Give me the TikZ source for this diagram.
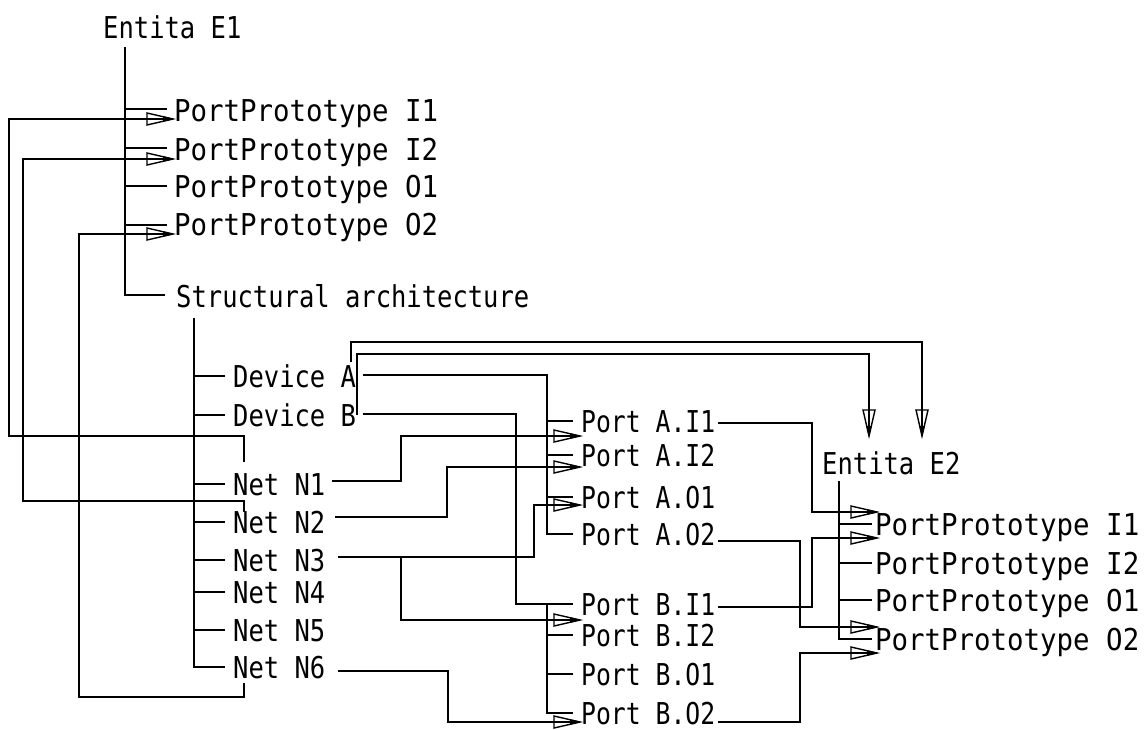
\documentclass[tikz,border=0pt]{standalone}
\usepackage{fontspec}
\usepackage{graphicx}
\newfontfamily\cadfont{DejaVu Sans Mono}
\usetikzlibrary{decorations.markings}
\newcommand\cadlab[2][1]{\scalebox{#1}[1.18]{#2}}
\tikzset{
  lab/.style={anchor=base west, inner sep=0pt, font=\cadfont\fontsize{25.5}{30}\selectfont},
  wire/.style={line width=1.4pt},
  cadarrow/.style={postaction={decorate},decoration={markings,mark=at position 1 with {%
    \draw[line width=1.4pt,line join=miter] (0pt,0pt)--(-26pt,6pt)--(-26pt,-6pt)--cycle;
    \fill (1pt,0pt)--(-10pt,2.8pt)--(-10pt,-2.8pt)--cycle;}}}
}
\begin{document}
\begin{tikzpicture}[x=1pt,y=-1pt]
\useasboundingbox[fill=white] (0,0) rectangle (1147,729);

% ---------- labels ----------
\node[lab] (e1) at (103,38) {\cadlab{Entita E1}};
\node[lab] (p1i1) at (174,121) {\cadlab[1.075]{PortPrototype I1}};
\node[lab] (p1i2) at (174,160) {\cadlab[1.075]{PortPrototype I2}};
\node[lab] (p1o1) at (174,197) {\cadlab[1.075]{PortPrototype O1}};
\node[lab] (p1o2) at (174,235) {\cadlab[1.075]{PortPrototype O2}};
\node[lab] (sa) at (176,307) {\cadlab{Structural architecture}};
\node[lab] (da) at (233,387) {\cadlab{Device A}};
\node[lab] (db) at (233,426) {\cadlab{Device B}};
\node[lab] (n1) at (233,495) {\cadlab{Net N1}};
\node[lab] (n2) at (233,533) {\cadlab{Net N2}};
\node[lab] (n3) at (233,571) {\cadlab{Net N3}};
\node[lab] (n4) at (233,603) {\cadlab{Net N4}};
\node[lab] (n5) at (233,641) {\cadlab{Net N5}};
\node[lab] (n6) at (233,678) {\cadlab{Net N6}};
\node[lab] (pai1) at (581,432) {\cadlab[0.97]{Port A.I1}};
\node[lab] (pai2) at (581,466) {\cadlab[0.97]{Port A.I2}};
\node[lab] (pao1) at (581,508) {\cadlab[0.97]{Port A.O1}};
\node[lab] (pao2) at (581,545) {\cadlab[0.97]{Port A.O2}};
\node[lab] (pbi1) at (581,615) {\cadlab[0.97]{Port B.I1}};
\node[lab] (pbi2) at (581,646) {\cadlab[0.97]{Port B.I2}};
\node[lab] (pbo1) at (581,685) {\cadlab[0.97]{Port B.O1}};
\node[lab] (pbo2) at (581,724) {\cadlab[0.97]{Port B.O2}};
\node[lab] (e2) at (822,474) {\cadlab{Entita E2}};
\node[lab] (p2i1) at (875,535) {\cadlab[1.075]{PortPrototype I1}};
\node[lab] (p2i2) at (875,574) {\cadlab[1.075]{PortPrototype I2}};
\node[lab] (p2o1) at (875,611) {\cadlab[1.075]{PortPrototype O1}};
\node[lab] (p2o2) at (875,650) {\cadlab[1.075]{PortPrototype O2}};

% ---------- trees ----------
\draw[wire] (125,47) -- (125,295) -- (165,295);
\foreach \y in {109,148,186,225} \draw[wire] (125,\y) -- (167,\y);

\draw[wire] (194,318) -- (194,667) -- (225,667);
\foreach \y in {376,415,484,522,560,592,630} \draw[wire] (194,\y) -- (225,\y);

\draw[wire] (363,375) -- (547,375) -- (547,534) -- (573,534);
\foreach \y in {421,455,497} \draw[wire] (547,\y) -- (573,\y);

\draw[wire] (363,414) -- (516,414) -- (516,604) -- (573,604);
\draw[wire] (547,604) -- (547,713) -- (573,713);
\foreach \y in {635,674} \draw[wire] (547,\y) -- (573,\y);

\draw[wire] (839,481) -- (839,639) -- (872,639);
\foreach \y in {524,563,600} \draw[wire] (839,\y) -- (872,\y);

% ---------- connectors ----------
\draw[wire,cadarrow] (244,462) -- (244,436) -- (9,436) -- (9,119) -- (173,119);
\draw[wire,cadarrow] (244,512) -- (244,501) -- (23,501) -- (23,159) -- (173,159);
\draw[wire,cadarrow] (244,683) -- (244,697) -- (79,697) -- (79,234) -- (173,234);

\draw[wire,cadarrow] (351,362) -- (351,342) -- (922,342) -- (922,436);
\draw[wire,cadarrow] (357,415) -- (357,354) -- (869,354) -- (869,436);

\draw[wire,cadarrow] (332,481) -- (401,481) -- (401,436) -- (580,436);
\draw[wire,cadarrow] (335,517) -- (447,517) -- (447,467) -- (580,467);
\draw[wire,cadarrow] (338,557) -- (534,557) -- (534,505) -- (580,505);
\draw[wire,cadarrow] (401,557) -- (401,620) -- (580,620);
\draw[wire,cadarrow] (338,671) -- (448,671) -- (448,722) -- (580,722);

\draw[wire,cadarrow] (718,423) -- (812,423) -- (812,512) -- (877,512);
\draw[wire,cadarrow] (718,607) -- (812,607) -- (812,538) -- (877,538);
\draw[wire,cadarrow] (718,541) -- (800,541) -- (800,627) -- (877,627);
\draw[wire,cadarrow] (718,722) -- (800,722) -- (800,653) -- (877,653);
\end{tikzpicture}
\end{document}
